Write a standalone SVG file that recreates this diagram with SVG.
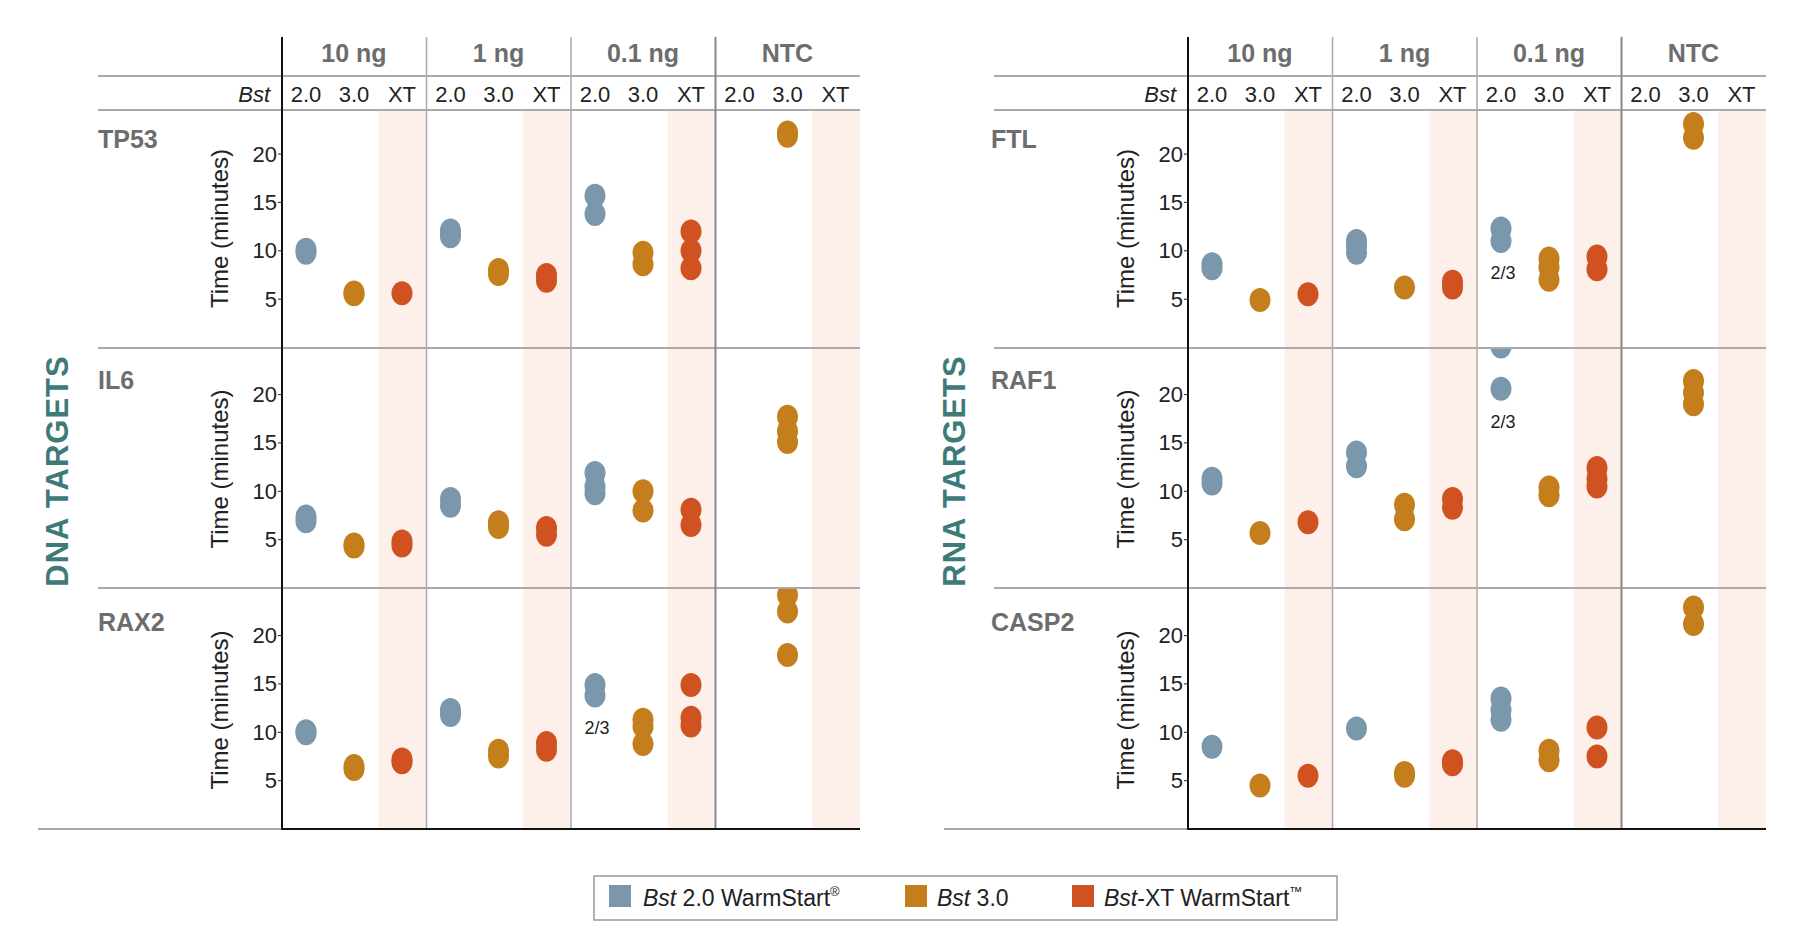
<svg xmlns="http://www.w3.org/2000/svg" xmlns:xlink="http://www.w3.org/1999/xlink" width="1800" height="938" viewBox="0 0 1800 938">
<style>
text{font-family:"Liberation Sans",Arial,sans-serif}
.hd{font-size:25px;font-weight:bold;fill:#6d6d6d;text-anchor:middle}
.sb{font-size:22px;fill:#222;text-anchor:middle}
.rl{font-size:25px;font-weight:bold;fill:#6d6d6d}
.tk{font-size:22px;fill:#222;text-anchor:end;dominant-baseline:central}
.yl{font-size:24px;fill:#222;text-anchor:middle}
.tt{font-size:31px;font-weight:bold;fill:#3e7b78;text-anchor:middle;letter-spacing:1px}
.fr{font-size:18px;fill:#222;text-anchor:middle;dominant-baseline:central}
.lg{font-size:23px;fill:#222}
.b{fill:#7a97ab}.g{fill:#c47f1c}.r{fill:#cf5220}
.sh{fill:#fdf0ea}
.hl{stroke:#aaa;stroke-width:2}
.vl{stroke:#aaa;stroke-width:1.5}
.vd{stroke:#888;stroke-width:2}
.ax{stroke:#111;stroke-width:2}
</style>
<defs>
<ellipse id="d" cx="0" cy="0" rx="10.5" ry="12"/>
<clipPath id="c1"><rect x="0" y="110" width="1800" height="238"/></clipPath>
<clipPath id="c2"><rect x="0" y="349" width="1800" height="239"/></clipPath>
<clipPath id="c3"><rect x="0" y="589" width="1800" height="240"/></clipPath>
<g id="frame">
<rect class="sh" x="378.5" y="110" width="48" height="719"/>
<rect class="sh" x="523" y="110" width="48" height="719"/>
<rect class="sh" x="667.5" y="110" width="48" height="719"/>
<rect class="sh" x="812" y="110" width="48" height="719"/>
<line class="hl" x1="282" y1="76" x2="860" y2="76"/>
<line class="hl" x1="282" y1="110" x2="860" y2="110"/>
<line class="hl" x1="282" y1="348" x2="860" y2="348"/>
<line class="hl" x1="282" y1="588" x2="860" y2="588"/>
<line class="vl" x1="426.5" y1="37" x2="426.5" y2="829"/>
<line class="vl" x1="571" y1="37" x2="571" y2="829"/>
<line class="vd" x1="715.5" y1="37" x2="715.5" y2="829"/>
<line class="ax" x1="282" y1="37" x2="282" y2="830"/>
<line class="ax" x1="282" y1="829" x2="860" y2="829"/>
<text class="hd" x="354" y="62">10 ng</text>
<text class="hd" x="498.5" y="62">1 ng</text>
<text class="hd" x="643" y="62">0.1 ng</text>
<text class="hd" x="787.5" y="62">NTC</text>
<text class="sb" x="270" y="102" font-style="italic" style="text-anchor:end">Bst</text>
<text class="sb" x="306" y="102">2.0</text><text class="sb" x="354" y="102">3.0</text><text class="sb" x="402" y="102">XT</text>
<text class="sb" x="450.5" y="102">2.0</text><text class="sb" x="498.5" y="102">3.0</text><text class="sb" x="546.5" y="102">XT</text>
<text class="sb" x="595" y="102">2.0</text><text class="sb" x="643" y="102">3.0</text><text class="sb" x="691" y="102">XT</text>
<text class="sb" x="739.5" y="102">2.0</text><text class="sb" x="787.5" y="102">3.0</text><text class="sb" x="835.5" y="102">XT</text>
<g id="ax1">
<text class="tk" x="277" y="299.2">5</text><text class="tk" x="277" y="250.8">10</text><text class="tk" x="277" y="202.4">15</text><text class="tk" x="277" y="154.1">20</text>
<line x1="278" y1="299.2" x2="282" y2="299.2" stroke="#222"/><line x1="278" y1="250.8" x2="282" y2="250.8" stroke="#222"/><line x1="278" y1="202.4" x2="282" y2="202.4" stroke="#222"/><line x1="278" y1="154.1" x2="282" y2="154.1" stroke="#222"/>
<text class="yl" transform="translate(228,228.5) rotate(-90)">Time (minutes)</text>
</g>
<use xlink:href="#ax1" y="240.5"/>
<use xlink:href="#ax1" y="481.5"/>
</g>
</defs>

<g id="left-panel">
<line class="hl" x1="98" y1="76" x2="282" y2="76"/>
<line class="hl" x1="98" y1="110" x2="282" y2="110"/>
<line class="hl" x1="98" y1="348" x2="282" y2="348"/>
<line class="hl" x1="98" y1="588" x2="282" y2="588"/>
<line class="hl" x1="38" y1="829" x2="282" y2="829"/>
<use xlink:href="#frame"/>
<text class="tt" transform="translate(68,471) rotate(-90)">DNA TARGETS</text>
</g>

<g id="right-panel">
<line class="hl" x1="994" y1="76" x2="1188" y2="76"/>
<line class="hl" x1="994" y1="110" x2="1188" y2="110"/>
<line class="hl" x1="994" y1="348" x2="1188" y2="348"/>
<line class="hl" x1="994" y1="588" x2="1188" y2="588"/>
<line class="hl" x1="944" y1="829" x2="1188" y2="829"/>
<use xlink:href="#frame" x="906"/>
<text class="tt" transform="translate(965,471) rotate(-90)">RNA TARGETS</text>
</g>

<g id="TP53" clip-path="url(#c1)">
<text class="rl" x="98" y="148">TP53</text>
<use xlink:href="#d" class="b" x="306" y="249.8"/><use xlink:href="#d" class="b" x="306" y="252.7"/>
<use xlink:href="#d" class="g" x="354" y="292.4"/><use xlink:href="#d" class="g" x="354" y="294.3"/>
<use xlink:href="#d" class="r" x="402" y="293.3"/>
<use xlink:href="#d" class="b" x="450.5" y="230.5"/><use xlink:href="#d" class="b" x="450.5" y="236.3"/>
<use xlink:href="#d" class="g" x="498.5" y="270.1"/><use xlink:href="#d" class="g" x="498.5" y="274"/>
<use xlink:href="#d" class="r" x="546.5" y="275"/><use xlink:href="#d" class="r" x="546.5" y="280.8"/>
<use xlink:href="#d" class="b" x="595" y="195.7"/><use xlink:href="#d" class="b" x="595" y="214.1"/>
<use xlink:href="#d" class="g" x="643" y="252.7"/><use xlink:href="#d" class="g" x="643" y="264.3"/>
<use xlink:href="#d" class="r" x="691" y="231.5"/><use xlink:href="#d" class="r" x="691" y="250.8"/><use xlink:href="#d" class="r" x="691" y="268.2"/>
<use xlink:href="#d" class="g" x="787.5" y="132.5"/><use xlink:href="#d" class="g" x="787.5" y="135.7"/>
</g>

<g id="IL6" clip-path="url(#c2)">
<text class="rl" x="98" y="389">IL6</text>
<use xlink:href="#d" class="b" x="306" y="516.4"/><use xlink:href="#d" class="b" x="306" y="521.3"/>
<use xlink:href="#d" class="g" x="354" y="544.5"/><use xlink:href="#d" class="g" x="354" y="546.4"/>
<use xlink:href="#d" class="r" x="402" y="541.6"/><use xlink:href="#d" class="r" x="402" y="545.5"/>
<use xlink:href="#d" class="b" x="450.5" y="499"/><use xlink:href="#d" class="b" x="450.5" y="505.8"/>
<use xlink:href="#d" class="g" x="498.5" y="522.2"/><use xlink:href="#d" class="g" x="498.5" y="527.1"/>
<use xlink:href="#d" class="r" x="546.5" y="528"/><use xlink:href="#d" class="r" x="546.5" y="534.8"/>
<use xlink:href="#d" class="b" x="595" y="472.9"/><use xlink:href="#d" class="b" x="595" y="486.5"/><use xlink:href="#d" class="b" x="595" y="493.2"/>
<use xlink:href="#d" class="g" x="643" y="491.3"/><use xlink:href="#d" class="g" x="643" y="510.6"/>
<use xlink:href="#d" class="r" x="691" y="509.7"/><use xlink:href="#d" class="r" x="691" y="525.1"/>
<use xlink:href="#d" class="g" x="787.5" y="416.8"/><use xlink:href="#d" class="g" x="787.5" y="431.3"/><use xlink:href="#d" class="g" x="787.5" y="442"/>
</g>

<g id="RAX2" clip-path="url(#c3)">
<text class="rl" x="98" y="631">RAX2</text>
<use xlink:href="#d" class="b" x="306" y="731.3"/><use xlink:href="#d" class="b" x="306" y="733.3"/>
<use xlink:href="#d" class="g" x="354" y="766.1"/><use xlink:href="#d" class="g" x="354" y="769"/>
<use xlink:href="#d" class="r" x="402" y="759.4"/><use xlink:href="#d" class="r" x="402" y="762.3"/>
<use xlink:href="#d" class="b" x="450.5" y="710.1"/><use xlink:href="#d" class="b" x="450.5" y="714.9"/>
<use xlink:href="#d" class="g" x="498.5" y="750.7"/><use xlink:href="#d" class="g" x="498.5" y="756.5"/>
<use xlink:href="#d" class="r" x="546.5" y="742.9"/><use xlink:href="#d" class="r" x="546.5" y="749.7"/>
<use xlink:href="#d" class="b" x="595" y="684.9"/><use xlink:href="#d" class="b" x="595" y="695.6"/>
<text class="fr" x="597" y="728">2/3</text>
<use xlink:href="#d" class="g" x="643" y="719.7"/><use xlink:href="#d" class="g" x="643" y="726.5"/><use xlink:href="#d" class="g" x="643" y="743.9"/>
<use xlink:href="#d" class="r" x="691" y="684.9"/><use xlink:href="#d" class="r" x="691" y="717.8"/><use xlink:href="#d" class="r" x="691" y="725.5"/>
<use xlink:href="#d" class="g" x="787.5" y="595"/><use xlink:href="#d" class="g" x="787.5" y="611.4"/><use xlink:href="#d" class="g" x="787.5" y="654.9"/>
</g>

<g id="FTL" clip-path="url(#c1)" transform="translate(-6,0)">
<text class="rl" x="997" y="148">FTL</text>
<use xlink:href="#d" class="b" x="1218" y="264.3"/><use xlink:href="#d" class="b" x="1218" y="268.2"/>
<use xlink:href="#d" class="g" x="1266" y="300.1"/>
<use xlink:href="#d" class="r" x="1314" y="294.3"/>
<use xlink:href="#d" class="b" x="1362.5" y="241.1"/><use xlink:href="#d" class="b" x="1362.5" y="246"/><use xlink:href="#d" class="b" x="1362.5" y="252.7"/>
<use xlink:href="#d" class="g" x="1410.5" y="287.5"/>
<use xlink:href="#d" class="r" x="1458.5" y="281.7"/><use xlink:href="#d" class="r" x="1458.5" y="287.5"/>
<use xlink:href="#d" class="b" x="1507" y="228.6"/><use xlink:href="#d" class="b" x="1507" y="241.1"/>
<text class="fr" x="1509" y="273">2/3</text>
<use xlink:href="#d" class="g" x="1555" y="258.5"/><use xlink:href="#d" class="g" x="1555" y="267.2"/><use xlink:href="#d" class="g" x="1555" y="279.8"/>
<use xlink:href="#d" class="r" x="1603" y="256.6"/><use xlink:href="#d" class="r" x="1603" y="269.2"/>
<use xlink:href="#d" class="g" x="1699.5" y="124.1"/><use xlink:href="#d" class="g" x="1699.5" y="137.7"/>
</g>

<g id="RAF1" clip-path="url(#c2)" transform="translate(-6,0)">
<text class="rl" x="997" y="389">RAF1</text>
<use xlink:href="#d" class="b" x="1218" y="478.7"/><use xlink:href="#d" class="b" x="1218" y="483.6"/>
<use xlink:href="#d" class="g" x="1266" y="532.9"/>
<use xlink:href="#d" class="r" x="1314" y="522.2"/>
<use xlink:href="#d" class="b" x="1362.5" y="452.6"/><use xlink:href="#d" class="b" x="1362.5" y="466.2"/>
<use xlink:href="#d" class="g" x="1410.5" y="504.8"/><use xlink:href="#d" class="g" x="1410.5" y="519.3"/>
<use xlink:href="#d" class="r" x="1458.5" y="499"/><use xlink:href="#d" class="r" x="1458.5" y="507.7"/>
<use xlink:href="#d" class="b" x="1507" y="346.5"/><use xlink:href="#d" class="b" x="1507" y="388.8"/>
<text class="fr" x="1509" y="422">2/3</text>
<use xlink:href="#d" class="g" x="1555" y="487.4"/><use xlink:href="#d" class="g" x="1555" y="495.2"/>
<use xlink:href="#d" class="r" x="1603" y="468.1"/><use xlink:href="#d" class="r" x="1603" y="478.7"/><use xlink:href="#d" class="r" x="1603" y="486.5"/>
<use xlink:href="#d" class="g" x="1699.5" y="381.1"/><use xlink:href="#d" class="g" x="1699.5" y="392.7"/><use xlink:href="#d" class="g" x="1699.5" y="404.3"/>
</g>

<g id="CASP2" clip-path="url(#c3)" transform="translate(-6,0)">
<text class="rl" x="997" y="631">CASP2</text>
<use xlink:href="#d" class="b" x="1218" y="746.8"/>
<use xlink:href="#d" class="g" x="1266" y="785.5"/>
<use xlink:href="#d" class="r" x="1314" y="775.8"/>
<use xlink:href="#d" class="b" x="1362.5" y="728.4"/>
<use xlink:href="#d" class="g" x="1410.5" y="772.9"/><use xlink:href="#d" class="g" x="1410.5" y="775.8"/>
<use xlink:href="#d" class="r" x="1458.5" y="761.3"/><use xlink:href="#d" class="r" x="1458.5" y="764.2"/>
<use xlink:href="#d" class="b" x="1507" y="698.5"/><use xlink:href="#d" class="b" x="1507" y="710.1"/><use xlink:href="#d" class="b" x="1507" y="719.7"/>
<use xlink:href="#d" class="g" x="1555" y="750.7"/><use xlink:href="#d" class="g" x="1555" y="760.3"/>
<use xlink:href="#d" class="r" x="1603" y="727.5"/><use xlink:href="#d" class="r" x="1603" y="756.5"/>
<use xlink:href="#d" class="g" x="1699.5" y="607.6"/><use xlink:href="#d" class="g" x="1699.5" y="624"/>
</g>

<g id="legend">
<rect x="594" y="876" width="743" height="44" fill="#fff" stroke="#999" stroke-width="1.5"/>
<rect class="b" x="609" y="885" width="22" height="22"/>
<text class="lg" x="643" y="906"><tspan font-style="italic">Bst</tspan> 2.0 WarmStart<tspan font-size="13" dy="-10">®</tspan></text>
<rect class="g" x="905" y="885" width="22" height="22"/>
<text class="lg" x="937" y="906"><tspan font-style="italic">Bst</tspan> 3.0</text>
<rect class="r" x="1072" y="885" width="22" height="22"/>
<text class="lg" x="1104" y="906"><tspan font-style="italic">Bst</tspan>-XT WarmStart<tspan font-size="13" dy="-10">™</tspan></text>
</g>
</svg>
